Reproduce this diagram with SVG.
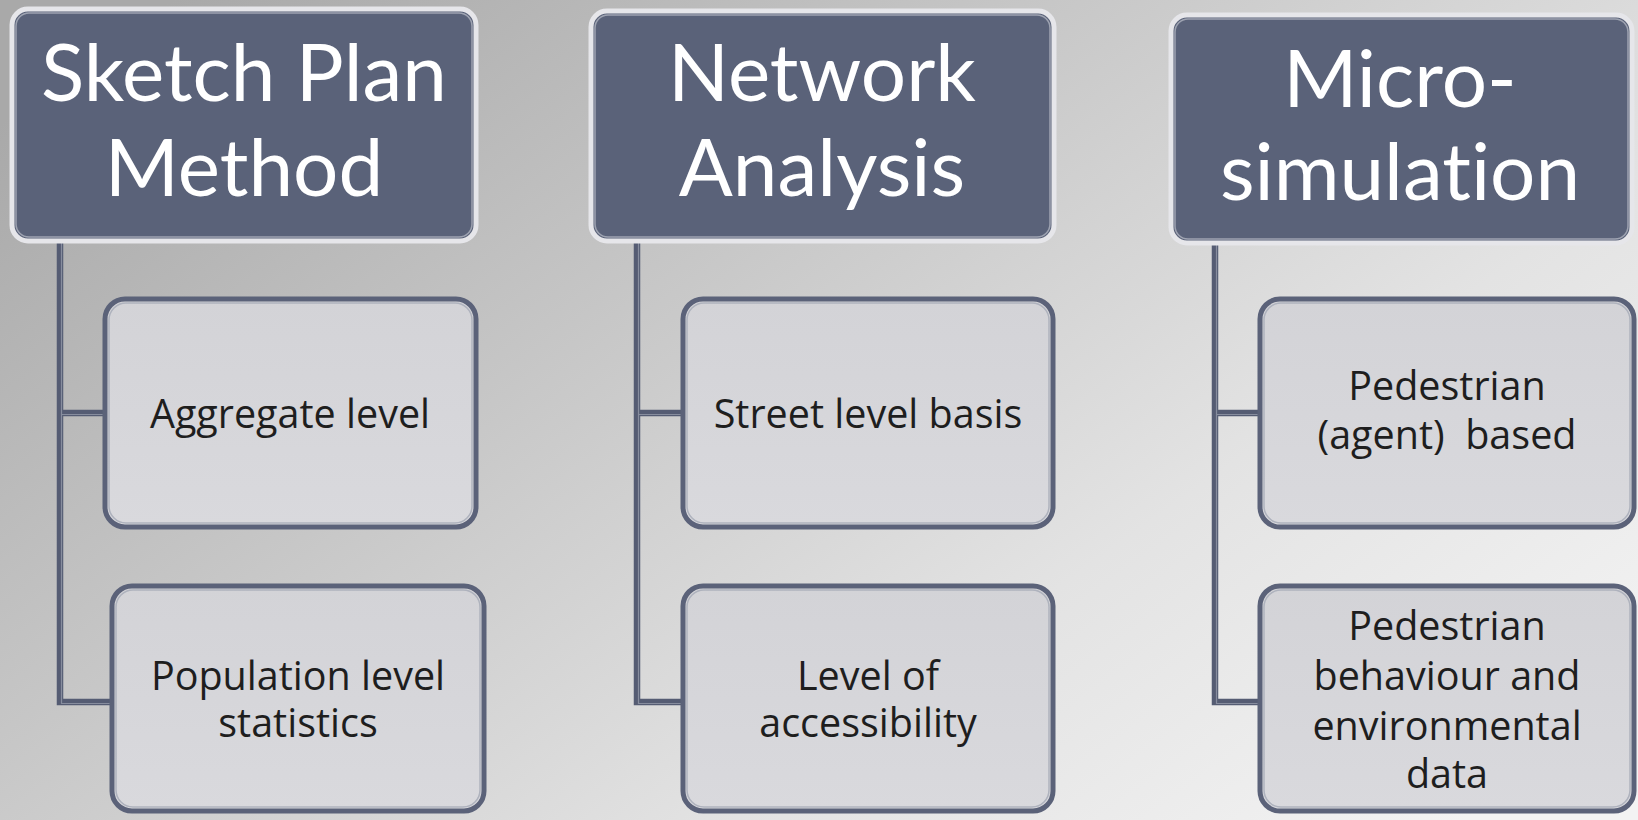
<svg xmlns="http://www.w3.org/2000/svg" width="1638" height="820" viewBox="0 0 1638 820">
  <defs>
    <linearGradient id="bg" x1="0" y1="0.15" x2="1" y2="0.85">
      <stop offset="0" stop-color="#a9a9a9"/>
      <stop offset="0.35" stop-color="#c6c6c6"/>
      <stop offset="0.7" stop-color="#e3e3e3"/>
      <stop offset="1" stop-color="#f3f3f3"/>
    </linearGradient>
    <linearGradient id="childFill" x1="0" y1="0" x2="0" y2="1">
      <stop offset="0" stop-color="#d3d3d7"/>
      <stop offset="1" stop-color="#d9d9dd"/>
    </linearGradient>
    <style>
      text { font-variant-ligatures: none; font-feature-settings: "liga" 0, "clig" 0; }
      .head-outer { fill: #5a6279; stroke: #e6e6ea; stroke-width: 5; }
      .head-inner { fill: none; stroke: #9ea3b1; stroke-width: 1.5; }
      .head-text { font-family: Lato, "Open Sans", "Liberation Sans", sans-serif; font-size: 80px; fill: #ffffff; text-anchor: middle; }
      .child-outer { fill: url(#childFill); stroke: #5b6279; stroke-width: 5; }
      .child-inner { fill: none; stroke: #aeb2bd; stroke-width: 1.5; }
      .child-text { font-family: "Open Sans", Lato, "Liberation Sans", sans-serif; font-size: 39.5px; fill: #1e1e1e; text-anchor: middle; }
      .link { fill: none; stroke: #555c73; stroke-width: 6.5; stroke-linejoin: miter; }
      .link-hi { fill: none; stroke: #878d9e; stroke-width: 1.2; }
    </style>
  </defs>

  <!-- backdrop -->
  <rect x="0" y="0" width="1638" height="820" fill="url(#bg)"/>

  <!-- tree connectors -->
  <g id="connectors">
    <path class="link" d="M60 242 V702 H112 M60 413 H105"/>
    <path class="link" d="M637 242 V702 H683 M637 413 H683"/>
    <path class="link" d="M1215 244 V702 H1260 M1215 413 H1260"/>
    <path class="link-hi" d="M61.5 242 V703.5 H112 M61.5 414.5 H105"/>
    <path class="link-hi" d="M638.5 242 V703.5 H683 M638.5 414.5 H683"/>
    <path class="link-hi" d="M1216.5 244 V703.5 H1260 M1216.5 414.5 H1260"/>
  </g>

  <!-- column 1 -->
  <g id="sketch-plan-method">
    <rect class="head-outer" x="12" y="9" width="464" height="232" rx="16"/>
    <rect class="head-inner" x="16" y="13" width="456" height="224" rx="13"/>
    <text class="head-text" x="244" y="101">Sketch Plan</text>
    <text class="head-text" x="244" y="196">Method</text>
  </g>
  <g id="aggregate-level">
    <rect class="child-outer" x="105" y="299" width="371" height="228" rx="20"/>
    <rect class="child-inner" x="109" y="303" width="363" height="220" rx="17"/>
    <text class="child-text" x="290" y="428">Aggregate level</text>
  </g>
  <g id="population-level-statistics">
    <rect class="child-outer" x="112" y="586" width="372" height="225" rx="20"/>
    <rect class="child-inner" x="116" y="590" width="364" height="217" rx="17"/>
    <text class="child-text" x="298" y="690">Population level</text>
    <text class="child-text" x="298" y="737">statistics</text>
  </g>

  <!-- column 2 -->
  <g id="network-analysis">
    <rect class="head-outer" x="591" y="11" width="463" height="230" rx="16"/>
    <rect class="head-inner" x="595" y="15" width="455" height="222" rx="13"/>
    <text class="head-text" x="822" y="101">Network</text>
    <text class="head-text" x="822" y="196">Analysis</text>
  </g>
  <g id="street-level-basis">
    <rect class="child-outer" x="683" y="299" width="370" height="228" rx="20"/>
    <rect class="child-inner" x="687" y="303" width="362" height="220" rx="17"/>
    <text class="child-text" x="868" y="428">Street level basis</text>
  </g>
  <g id="level-of-accessibility">
    <rect class="child-outer" x="683" y="586" width="370" height="225" rx="20"/>
    <rect class="child-inner" x="687" y="590" width="362" height="217" rx="17"/>
    <text class="child-text" x="868" y="690">Level of</text>
    <text class="child-text" x="868" y="737">accessibility</text>
  </g>

  <!-- column 3 -->
  <g id="micro-simulation">
    <rect class="head-outer" x="1171" y="15" width="461" height="228" rx="16"/>
    <rect class="head-inner" x="1175" y="19" width="453" height="220" rx="13"/>
    <text class="head-text" x="1400" y="107">Micro-</text>
    <text class="head-text" x="1400" y="200">simulation</text>
  </g>
  <g id="pedestrian-agent-based">
    <rect class="child-outer" x="1260" y="299" width="374" height="228" rx="20"/>
    <rect class="child-inner" x="1264" y="303" width="366" height="220" rx="17"/>
    <text class="child-text" x="1447" y="400">Pedestrian</text>
    <text class="child-text" x="1447" y="449" xml:space="preserve">(agent)  based</text>
  </g>
  <g id="pedestrian-behaviour-environmental-data">
    <rect class="child-outer" x="1260" y="586" width="374" height="225" rx="20"/>
    <rect class="child-inner" x="1264" y="590" width="366" height="217" rx="17"/>
    <text class="child-text" x="1447" y="640">Pedestrian</text>
    <text class="child-text" x="1447" y="690">behaviour and</text>
    <text class="child-text" x="1447" y="740">environmental</text>
    <text class="child-text" x="1447" y="788">data</text>
  </g>
</svg>
